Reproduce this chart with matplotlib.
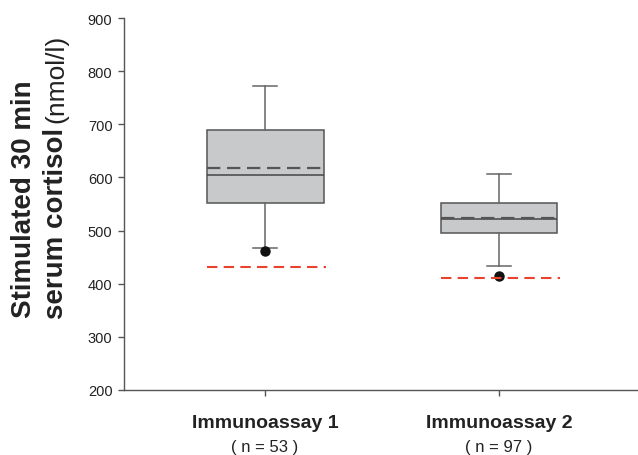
import matplotlib
matplotlib.use("Agg")
import matplotlib.pyplot as plt

plt.rcParams['font.family'] = ['Liberation Sans', 'DejaVu Sans']

groups = ["Immunoassay 1", "Immunoassay 2"]
n_values = [53, 97]
q1 = [551, 496]
medians = [605, 522]
q3 = [689, 551]
means = [617, 524]
whislo = [467, 434]
whishi = [772, 606]
outliers = [[461], [414]]
cutoffs = [432, 410]
yticks = [200, 300, 400, 500, 600, 700, 800, 900]

positions = [1, 2]

fig = plt.figure(figsize=(6.38, 4.56), dpi=100)
ax = fig.add_axes([124/638, 65/456, (637-124)/638, (391-19)/456])

stats = []
for i in range(len(groups)):
    stats.append(dict(med=medians[i], q1=q1[i], q3=q3[i], whislo=whislo[i],
                      whishi=whishi[i], mean=means[i], fliers=outliers[i],
                      label=groups[i]))

ax.bxp(stats, positions=positions, widths=0.5, capwidths=0.1,
       showmeans=True, meanline=True, patch_artist=True,
       boxprops=dict(facecolor='#c8c9cb', edgecolor='#555555', linewidth=1.1),
       medianprops=dict(color='#444444', linewidth=1.1),
       meanprops=dict(color='#555555', linewidth=1.6, linestyle=(0, (6, 3))),
       whiskerprops=dict(color='#666666', linewidth=1.1),
       capprops=dict(color='#666666', linewidth=1.1),
       flierprops=dict(marker='o', markerfacecolor='#111111',
                       markeredgecolor='#111111', markersize=6.5))

for p, c in zip(positions, cutoffs):
    ax.hlines(c, p - 0.25, p + 0.26, colors='#e8432c', linewidth=1.5,
              linestyles=(0, (5, 3)), zorder=3)

ax.set_xlim(0.397, 2.59)
ax.set_ylim(200, 900)
ax.set_yticks(yticks)
ax.set_yticklabels([str(v) for v in yticks], fontsize=10.5, color='#222222')
ax.set_xticks(positions)
ax.set_xticklabels(groups, fontsize=14, fontweight='bold', color='#222222')
ax.tick_params(axis='x', length=4.3, width=1, color='#555555', pad=13)
ax.tick_params(axis='y', length=4.3, width=1, color='#555555', pad=4)

for s in ['top', 'right']:
    ax.spines[s].set_visible(False)
for s in ['left', 'bottom']:
    ax.spines[s].set_color('#555555')
    ax.spines[s].set_linewidth(1.0)

for p, n in zip(positions, n_values):
    ax.annotate(f"( n = {n} )", xy=(p, 0), xycoords=('data', 'axes fraction'),
                xytext=(0, -35.5), textcoords='offset points', ha='center',
                va='top', fontsize=12, color='#222222')

# y label: three pieces
fig.text(24/638, 1 - 199.5/456, "Stimulated 30 min", rotation=90,
         ha='center', va='center', fontsize=20, fontweight='bold', color='#222222')
t2 = fig.text(56/638, 1 - 319/456, "serum cortisol", rotation=90,
              ha='center', va='bottom', fontsize=20, fontweight='bold', color='#222222')
fig.canvas.draw()
bb = t2.get_window_extent()
top_px = bb.y1
fig.text(56/638, (top_px + 5) / 456, "(nmol/l)", rotation=90,
         ha='center', va='bottom', fontsize=19, color='#222222')

fig.savefig("out.png", dpi=100)
